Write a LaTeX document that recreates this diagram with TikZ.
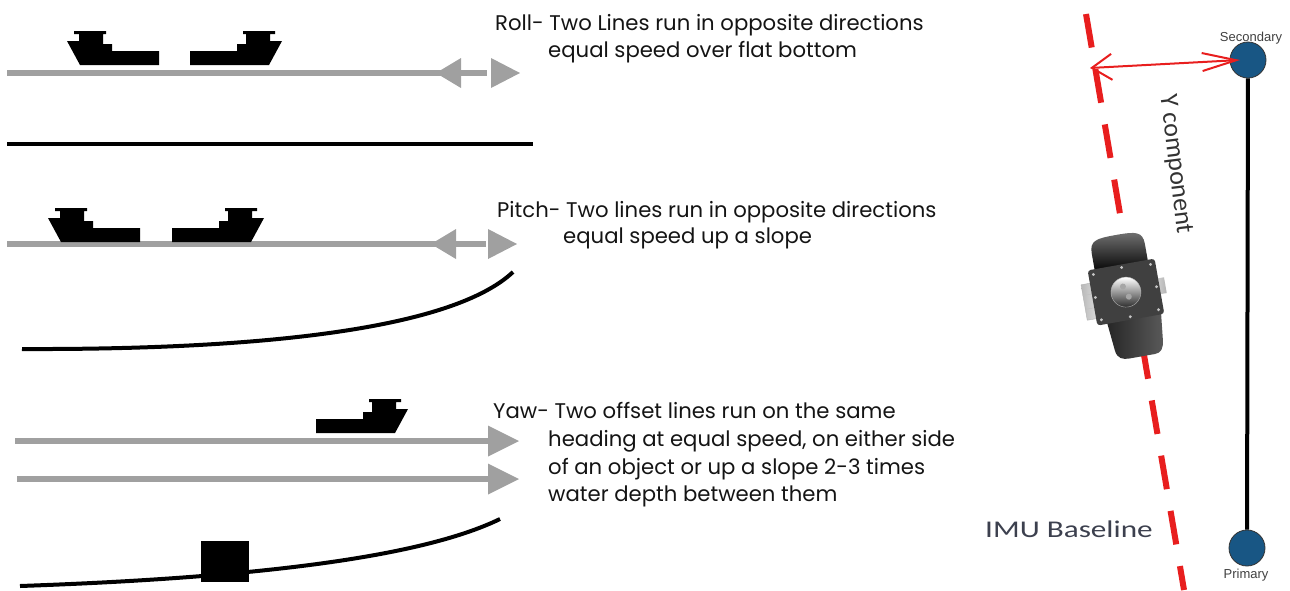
\documentclass[tikz,border=0pt]{standalone}
\usepackage{fontspec}
\newfontfamily\futura{Poppins}
\newfontfamily\calib{Carlito}
\newfontfamily\arial{Liberation Sans}
\usetikzlibrary{arrows.meta}
\definecolor{arrgray}{RGB}{160,160,160}
\definecolor{dashred}{RGB}{232,30,30}
\definecolor{nodeblue}{RGB}{24,86,132}
\definecolor{txt}{RGB}{20,20,20}
\definecolor{slate}{RGB}{60,64,78}
\def\shipshape{(0,-24) -- (13,0) -- (92,0) -- (92,-14) -- (45,-14) -- (45,-21) -- (36,-21) -- (36,-31) -- (39,-31) -- (39,-34) -- (7,-34) -- (7,-31) -- (12,-31) -- (12,-24) -- cycle}
\begin{document}
\begin{tikzpicture}[x=1pt,y=-1pt,
  desc/.style={font=\futura\fontsize{21.2}{21.2}\selectfont, text=txt, anchor=base west, inner sep=0pt},
  trackline/.style={arrgray, line width=6pt},
  seabed/.style={black, line width=4pt},
  antenna/.style={circle, draw=black!80, line width=0.8pt, fill=nodeblue, minimum size=36pt, inner sep=0pt},
  smalllbl/.style={font=\arial\fontsize{13}{13}\selectfont, text=black!75, inner sep=0pt}
]
\useasboundingbox (0,0) rectangle (1290,590);

% ---------- Roll ----------
\draw[trackline] (7,73) -- (487,73);
\fill[arrgray] (436,73) -- (461,58) -- (461,88) -- cycle;
\fill[arrgray] (520,73) -- (491,58) -- (491,88) -- cycle;
\fill[black, shift={(67,65)}] \shipshape;
\fill[black, shift={(282,65)}, xscale=-1] \shipshape;
\draw[seabed] (7,144) -- (533,144);
\node[desc] (roll1) at (495,30) {Roll- Two Lines run in opposite directions};
\node[desc] (roll2) at (548,57) {equal speed over flat bottom};

% ---------- Pitch ----------
\draw[trackline] (7,244) -- (486,244);
\fill[arrgray] (431,244) -- (456,229) -- (456,259) -- cycle;
\fill[arrgray] (517,244) -- (488,229) -- (488,259) -- cycle;
\fill[black, shift={(48,242)}] \shipshape;
\fill[black, shift={(264,242)}, xscale=-1] \shipshape;
\draw[seabed] (22,349) .. controls (300,350) and (460,322) .. (513,272);
\node[desc] (pitch1) at (497,217) {Pitch- Two lines run in opposite directions};
\node[desc] (pitch2) at (563,243) {equal speed up a slope};

% ---------- Yaw ----------
\fill[black, shift={(408,433)}, xscale=-1] \shipshape;
\draw[trackline] (15,441) -- (490,441);
\fill[arrgray] (519,441) -- (488,425.5) -- (488,456.5) -- cycle;
\draw[trackline] (17,479) -- (490,479);
\fill[arrgray] (519,479) -- (488,463.5) -- (488,494.5) -- cycle;
\fill[black] (201,541) rectangle (249,582);
\draw[seabed] (20,586) .. controls (250,578) and (420,558) .. (500,519);
\node[desc] (yaw1) at (493,418) {Yaw- Two offset lines run on the same};
\node[desc] (yaw2) at (548,446) {heading at equal speed, on either side};
\node[desc] (yaw3) at (548,474) {of an object or up a slope 2-3 times};
\node[desc] (yaw4) at (548,501) {water depth between them};

% ---------- IMU / baseline ----------
\draw[dashred, line width=6pt, dash pattern=on 34pt off 22pt] (1086,14) -- (1184,590);

\node[antenna] (sec) at (1248,60) {};
\node[antenna] (pri) at (1247,548) {};
\draw[black, line width=4pt] (sec) -- (pri);
\node[smalllbl] (seclbl) at (1251,38) {Secondary};
\node[smalllbl] (prilbl) at (1246,575) {Primary};

\coordinate (yleft) at (1090,68);
\draw[dashred, line width=2pt, {Straight Barb[length=20pt,width=26pt]}-{Straight Barb[length=34pt,width=18pt]}] (yleft) -- ([xshift=-8pt]sec.center);

\node[font=\calib\fontsize{26}{26}\selectfont, text=black!80, rotate=-83, inner sep=0pt] (ycomp) at (1175,164) {Y component};
\node[text=slate, anchor=base west, inner sep=0pt] (imu) at (985,537) {\scalebox{1.3}[1]{\calib\fontsize{24}{24}\selectfont IMU Baseline}};

% IMU device
\begin{scope}[shift={(1127,298)}, rotate=10]
  \shade[left color=gray!55, right color=gray!10, draw=gray!60] (-43,-21) rectangle (-22,15);
  \draw[gray!50] (-43,-10) -- (-22,-10) (-43,4) -- (-22,4);
  \shade[left color=gray!30, right color=gray!60] (30,-14) rectangle (40,2);
  \shade[top color=black!55, bottom color=black] (-27,-30) -- (-27,-50) .. controls (-27,-63) and (-20,-64) .. (0,-64) .. controls (20,-64) and (27,-63) .. (27,-50) -- (27,-30) -- cycle;
  \shade[left color=black!85, right color=black!65] (-24,20) -- (-21,50) .. controls (-20,58) and (-15,60) .. (-8,60) -- (18,60) .. controls (24,60) and (27,56) .. (28,48) -- (31,20) -- cycle;
  \fill[black!75, rounded corners=3pt] (-34,-34) rectangle (34,22);
  \foreach \p in {(-29,-29),(29,-29),(-29,17),(29,17),(0,-31),(0,19),(-31,-6),(31,-6)}
    \fill[gray!45] \p circle (1.6);
  \shade[top color=white, bottom color=black!85, draw=gray!60] (0,-6) circle (15);
  \fill[gray!70] (-2,-12) circle (3) (2,-1) circle (3);
\end{scope}
\end{tikzpicture}
\end{document}
